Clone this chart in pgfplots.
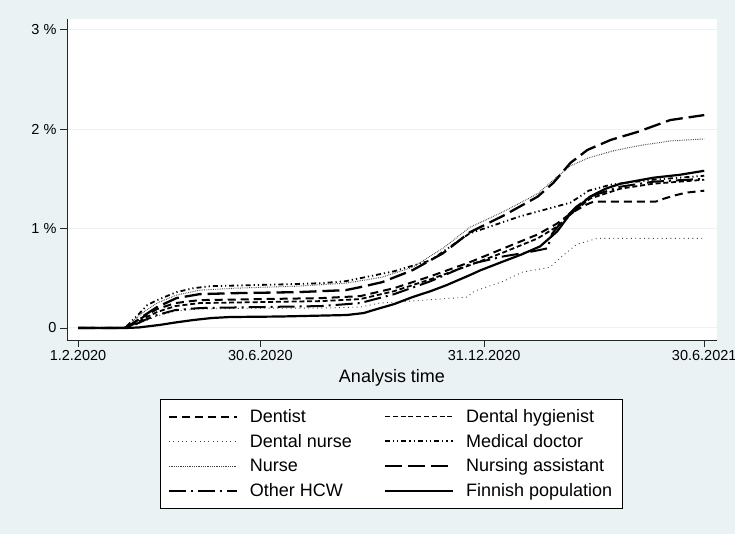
\documentclass[border=0pt]{standalone}
\usepackage{pgfplots}
\pgfplotsset{compat=1.18}
\usepackage{fontspec}
\setmainfont{Liberation Sans}
\definecolor{bgc}{RGB}{234,242,243}
\begin{document}
\begin{tikzpicture}[x=1pt,y=1pt]
\path[use as bounding box] (0,0) rectangle (735,534);
\fill[bgc] (0,0) rectangle (735,534);
\begin{axis}[
  at={(67pt,194pt)}, anchor=south west,
  scale only axis, width=650pt, height=321pt,
  xmin=-9.05, xmax=525.5, ymin=-0.121, ymax=3.106,
  axis x line*=bottom, axis y line*=left,
  axis line style={black!85, line width=0.8pt},
  axis background/.style={fill=white},
  xtick={0,150,334,515}, xticklabels={1.2.2020,30.6.2020,31.12.2020,30.6.2021},
  ytick={0,1,2,3}, yticklabels={0,1 \%,2 \%,3 \%},
  tick align=outside, major tick length=7pt,
  tick style={black!85, line width=0.8pt},
  ymajorgrids, grid style={bgc, line width=1pt},
  tick label style={font=\fontsize{14.5}{17}\selectfont},
  xlabel={Analysis time},
  xlabel style={font=\fontsize{18}{21}\selectfont, at={(axis description cs:0.5,0)}, anchor=base, yshift=-43pt},
  legend columns=2,
  legend cell align=left,
  legend style={at={(0.4985,-0.184)}, anchor=north, draw=black, fill=white,
    font=\fontsize{18}{21}\selectfont, inner xsep=7.5pt, inner ysep=8pt, row sep=6.3pt,
    /tikz/every odd column/.append style={column sep=10pt},
    /tikz/every even column/.append style={column sep=30pt}},
  legend image code/.code={\draw[#1] (0pt,0pt) -- (68pt,0pt);},
]
% Dentist
\addplot[black, line width=2pt, dash pattern=on 8pt off 5pt] coordinates {
(0,0) (38,0) (42,0.02) (48,0.07) (55,0.12) (65,0.19) (80,0.25) (100,0.28) (150,0.29) (200,0.30) (232,0.32) (260,0.40) (290,0.52) (322,0.66) (350,0.80) (378,0.94) (394,1.05) (405,1.15) (418,1.24) (424,1.27) (475,1.27) (482,1.30) (490,1.33) (500,1.36) (515,1.38)};
\addlegendentry{Dentist}
% Dental hygienist
\addplot[black, line width=1.8pt, dash pattern=on 5pt off 2.8pt] coordinates {
(0,0) (38,0) (42,0.015) (48,0.05) (55,0.10) (65,0.16) (80,0.22) (100,0.25) (150,0.26) (200,0.27) (232,0.29) (260,0.37) (290,0.49) (322,0.63) (350,0.76) (378,0.90) (394,1.02) (405,1.14) (421,1.30) (446,1.40) (473,1.45) (515,1.49)};
\addlegendentry{Dental hygienist}
% Dental nurse
\addplot[black!75, line width=0.9pt, dash pattern=on 0.9pt off 3.5pt] coordinates {
(0,0) (38,0) (42,0.01) (48,0.04) (55,0.07) (65,0.12) (80,0.17) (100,0.19) (150,0.20) (200,0.20) (232,0.21) (248,0.25) (285,0.28) (320,0.31) (326,0.37) (350,0.47) (365,0.56) (388,0.61) (398,0.72) (410,0.84) (427,0.90) (515,0.90)};
\addlegendentry{Dental nurse}
% Medical doctor
\addplot[black, line width=1.8pt, dash pattern=on 5pt off 3pt on 1.2pt off 3pt on 1.2pt off 3pt] coordinates {
(0,0) (38,0) (41,0.03) (45,0.08) (50,0.14) (57,0.23) (65,0.28) (81,0.36) (95,0.40) (109,0.42) (174,0.44) (200,0.45) (220,0.47) (232,0.50) (260,0.57) (290,0.68) (310,0.85) (322,0.95) (363,1.12) (405,1.26) (420,1.38) (438,1.44) (473,1.49) (515,1.53)};
\addlegendentry{Medical doctor}
% Nurse
\addplot[black!75, line width=1pt, dash pattern=on 0.7pt off 1.1pt] coordinates {
(0,0) (38,0) (42,0.03) (48,0.10) (55,0.17) (65,0.25) (81,0.33) (100,0.38) (130,0.40) (180,0.42) (220,0.45) (250,0.51) (275,0.61) (300,0.80) (322,1.01) (350,1.17) (378,1.35) (394,1.52) (405,1.63) (420,1.71) (440,1.78) (460,1.83) (487,1.88) (515,1.90)};
\addlegendentry{Nurse}
% Nursing assistant
\addplot[black, line width=2.3pt, dash pattern=on 17pt off 6pt] coordinates {
(0,0) (38,0) (42,0.02) (48,0.07) (55,0.13) (65,0.21) (81,0.30) (100,0.34) (130,0.35) (180,0.36) (220,0.38) (232,0.41) (250,0.46) (275,0.58) (300,0.75) (322,0.96) (350,1.13) (378,1.32) (391,1.46) (405,1.66) (419,1.79) (438,1.89) (460,1.97) (487,2.09) (515,2.14)};
\addlegendentry{Nursing assistant}
% Other HCW
\addplot[black, line width=2pt, dash pattern=on 17pt off 5pt on 2pt off 5pt] coordinates {
(0,0) (38,0) (42,0.01) (48,0.04) (55,0.08) (65,0.13) (80,0.18) (100,0.20) (150,0.21) (200,0.22) (232,0.25) (260,0.34) (290,0.47) (322,0.64) (350,0.72) (370,0.76) (386,0.80) (390,0.95) (400,1.10) (410,1.22) (421,1.32) (446,1.42) (473,1.47) (515,1.50)};
\addlegendentry{Other HCW}
% Finnish population
\addplot[black, line width=2.2pt] coordinates {
(0,0) (40,0) (50,0.005) (60,0.02) (67,0.03) (80,0.055) (95,0.08) (110,0.10) (125,0.11) (166,0.115) (221,0.13) (235,0.15) (243,0.18) (260,0.24) (275,0.31) (290,0.37) (303,0.43) (322,0.53) (331,0.58) (350,0.67) (365,0.74) (380,0.82) (394,0.97) (405,1.15) (421,1.32) (434,1.40) (446,1.45) (473,1.51) (495,1.54) (515,1.58)};
\addlegendentry{Finnish population}
\end{axis}
\end{tikzpicture}
\end{document}
